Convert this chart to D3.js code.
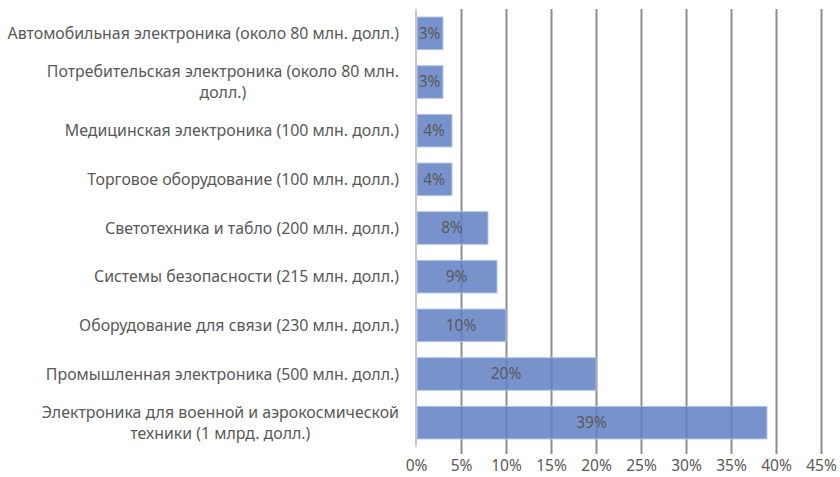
<!DOCTYPE html>
<html>
<head>
<meta charset="utf-8">
<script src="https://cdn.jsdelivr.net/npm/d3@7"></script>
<style>
  html, body { margin: 0; padding: 0; background: #fff; }
  svg { display: block; }
  text { font-family: "Noto Sans", "Open Sans", sans-serif; fill: #595959; }
</style>
</head>
<body>
<svg id="chart" width="840" height="477"></svg>
<script>
// Market segments, top to bottom; "\n" marks where a label wraps
const categories = [
  "Автомобильная электроника (около 80 млн. долл.)",
  "Потребительская электроника (около 80 млн.\nдолл.)",
  "Медицинская электроника (100 млн. долл.)",
  "Торговое оборудование (100 млн. долл.)",
  "Светотехника и табло (200 млн. долл.)",
  "Системы безопасности (215 млн. долл.)",
  "Оборудование для связи (230 млн. долл.)",
  "Промышленная электроника (500 млн. долл.)",
  "Электроника для военной и аэрокосмической\nтехники (1 млрд. долл.)"
];
// Share of the market, percent
const shares = [3, 3, 4, 4, 8, 9, 10, 20, 39];
// Value axis ticks, percent
const tickValues = [0, 5, 10, 15, 20, 25, 30, 35, 40, 45];

const svg = d3.select("#chart");
const plot = { left: 416, right: 821, top: 9, bottom: 447 };

const x = d3.scaleLinear().domain([0, 45]).range([plot.left, plot.right]);
const y = d3.scaleBand()
  .domain(categories)
  .range([plot.top, plot.bottom])
  .paddingInner(0.33)
  .paddingOuter(0.165);

// Vertical gridlines (running past the axis as tick marks)
const xAxis = d3.axisBottom(x)
  .tickValues(tickValues)
  .tickSize(-(plot.bottom - plot.top) - 7)
  .tickFormat(d => d + "%");
const gx = svg.append("g")
  .attr("transform", `translate(0,${plot.bottom + 7})`)
  .call(xAxis);
gx.select(".domain").remove();
gx.selectAll(".tick line")
  .attr("stroke", "#8e8e93")
  .attr("stroke-width", 2);
gx.selectAll(".tick").filter(d => d === 0).select("line").remove();
gx.selectAll(".tick text")
  .attr("y", 6)
  .attr("dy", "0.71em")
  .style("font-size", "15.5px")
  .attr("fill", "#595959");

// Category axis line
svg.append("line")
  .attr("x1", x(0)).attr("x2", x(0))
  .attr("y1", plot.top).attr("y2", plot.bottom)
  .attr("stroke", "#c8c8c8")
  .attr("stroke-width", 2);

// Bars
svg.append("g").selectAll("rect")
  .data(shares)
  .join("rect")
  .attr("x", x(0) + 1)
  .attr("y", (d, i) => y(categories[i]))
  .attr("width", d => x(d) - x(0) - 1)
  .attr("height", y.bandwidth())
  .attr("fill", "#6080c2")
  .attr("fill-opacity", 0.85)
  .attr("stroke", "#b3c3e8")
  .attr("stroke-width", 1);

// Value labels, centred in each bar
svg.append("g").selectAll("text")
  .data(shares)
  .join("text")
  .attr("x", d => (x(0) + x(d)) / 2)
  .attr("y", (d, i) => y(categories[i]) + y.bandwidth() / 2)
  .attr("dy", "0.35em")
  .attr("text-anchor", "middle")
  .style("font-size", "15.5px")
  .attr("fill", "#4d4d4d")
  .text(d => d + "%");

// Category labels, right-aligned to the axis, wrapped lines centred within the block
const lineH = 21;
const labels = svg.append("g").selectAll("text")
  .data(categories)
  .join("text")
  .attr("text-anchor", "middle")
  .style("font-size", "15.9px");

labels.each(function (c) {
  const t = d3.select(this);
  const lines = c.split("\n");
  const cy = y(c) + y.bandwidth() / 2;
  lines.forEach((ln, k) => {
    t.append("tspan")
      .attr("y", cy + (k - (lines.length - 1) / 2) * lineH)
      .attr("dy", "0.35em")
      .text(ln);
  });
  // widest line sets the block; right edge sits just left of the axis
  let w = 0;
  t.selectAll("tspan").each(function () { w = Math.max(w, this.getComputedTextLength()); });
  t.selectAll("tspan").attr("x", 399 - w / 2);
});
</script>
</body>
</html>
